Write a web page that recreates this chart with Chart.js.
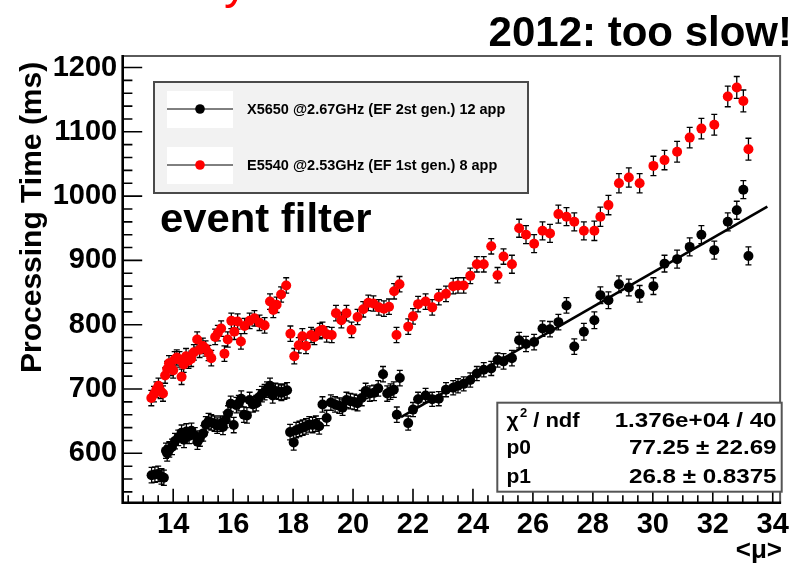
<!DOCTYPE html>
<html>
<head>
<meta charset="utf-8">
<title>Processing time vs pile-up</title>
<script src="https://cdn.jsdelivr.net/npm/chart.js@4.4.1/dist/chart.umd.min.js"></script>
<style>
  html, body { margin: 0; padding: 0; background: #ffffff; }
  #wrap { width: 794px; height: 566px; position: relative; }
</style>
</head>
<body>
<div id="wrap"><canvas id="c" width="794" height="566"></canvas></div>
<script>
// ---- data: mean pile-up <mu> and event-filter processing time (ms) ----
const blackLabel = 'X5650 @2.67GHz (EF 2st gen.) 12 app';
const blackMu = [
  13.28,13.39,13.50,13.61,13.69,13.76,13.80,13.87,13.96,14.06,14.17,14.28,14.36,14.44,14.53,14.61,14.72,14.81,14.89,15.00,
  15.09,15.18,15.27,15.38,15.47,15.58,15.66,15.75,15.83,15.92,16.02,16.11,16.19,16.27,16.36,16.46,16.55,16.66,16.77,16.86,
  16.96,17.05,17.13,17.23,17.32,17.41,17.51,17.61,17.71,17.80,
  17.90,18.02,18.10,18.21,18.32,18.43,18.54,18.65,18.76,18.87,18.98,19.12,19.26,19.40,19.54,19.65,19.78,19.91,20.04,20.15,
  20.29,20.42,20.56,20.70,20.84,21.00,21.14,21.25,21.36,21.46,21.56,
  21.84,22.00,22.17,22.42,22.64,22.86,23.10,23.34,23.50,23.69,23.91,24.13,24.36,24.61,24.82,25.02,25.30,25.54,25.77,26.04,
  26.32,26.57,26.85,27.12,27.38,27.70,28.05,28.25,28.52,28.87,29.20,29.56,30.02,30.39,30.81,31.23,31.62,32.05,32.50,32.80,
  33.02,33.19
];
const blackTime = [
  566,567,568,564,562,604,600,606,610,619,624,632,621,634,627,635,628,618,623,631,
  645,650,648,646,643,646,641,652,662,677,644,675,678,685,660,659,683,676,678,687,
  692,695,699,705,690,697,696,694,696,698,
  633,617,636,638,640,642,645,644,646,642,676,655,679,676,674,671,683,681,680,678,
  686,697,693,694,701,723,693,696,699,660,717,
  647,668,684,690,684,685,699,702,705,708,714,724,730,732,745,743,748,776,770,773,
  794,793,804,830,766,789,807,846,838,863,858,848,860,895,902,921,940,916,960,978,
  1010,907
];
const blackErr = [
  12,12,12,12,12,12,12,12,12,12,12,12,12,12,12,12,12,12,12,12,
  12,12,12,12,12,12,12,12,12,12,12,12,12,12,12,12,12,12,12,12,
  12,12,12,12,12,12,12,12,12,12,
  12,12,12,12,12,12,12,12,12,12,12,12,12,12,12,12,12,12,12,12,
  12,12,12,12,12,12,12,12,12,12,12,
  11,11,11,11,11,11,11,11,11,11,11,11,11,11,11,12,12,12,12,12,
  12,12,12,12,12,13,13,13,13,13,13,13,13,13,14,14,14,14,14,14,
  14,14
];

const redLabel = 'E5540 @2.53GHz (EF 1st gen.) 8 app';
const redMu = [
  13.27,13.36,13.44,13.51,13.58,13.66,13.73,13.80,13.86,13.93,14.00,14.05,14.12,14.21,14.28,14.35,14.43,14.51,14.60,14.69,
  14.80,14.88,14.99,15.08,15.18,15.27,15.40,15.49,15.60,15.71,15.82,15.94,16.04,16.15,16.26,16.38,16.55,16.71,16.88,17.05,
  17.23,17.34,17.45,17.60,17.77,
  17.91,18.04,18.19,18.31,18.43,18.60,18.71,18.89,18.98,19.12,19.29,19.43,19.61,19.78,19.95,20.15,20.34,20.51,20.68,20.86,
  21.03,21.20,21.37,21.45,21.55,
  21.84,22.00,22.17,22.42,22.64,22.86,23.10,23.34,23.50,23.69,23.91,24.13,24.36,24.61,24.82,25.02,25.30,25.54,25.77,26.04,
  26.32,26.57,26.85,27.12,27.38,27.70,28.05,28.25,28.52,28.87,29.20,29.56,30.02,30.39,30.81,31.23,31.62,32.05,32.50,32.80,
  33.02,33.19
];
const redTime = [
  686,692,699,705,697,693,721,731,740,733,729,746,749,746,719,738,751,744,747,757,
  777,761,767,763,756,748,781,787,794,755,777,806,789,805,774,798,806,810,803,799,
  836,823,831,847,861,
  786,751,768,782,767,784,781,790,792,785,784,818,807,818,792,812,824,834,833,827,
  825,828,852,784,863,
  797,813,832,836,827,843,848,860,861,861,876,894,894,922,877,906,894,950,940,926,
  946,942,972,968,960,946,946,968,986,1020,1029,1020,1047,1056,1069,1091,1105,1111,1155,1169,
  1148,1073
];
const redErr = [
  12,12,12,12,12,12,12,12,12,12,12,12,12,12,12,12,12,12,12,12,
  12,12,12,12,12,12,12,12,12,12,12,12,12,12,12,12,12,12,12,12,
  12,12,12,12,12,
  12,12,12,12,12,12,12,12,12,12,12,12,12,12,12,12,12,12,12,12,
  12,12,12,12,12,
  12,12,12,12,12,12,12,12,12,12,12,12,12,12,12,12,14,14,14,14,
  14,14,14,14,14,14,15,15,15,15,15,15,15,15,16,16,16,16,16,17,
  17,17
];

// linear fit to the X5650 points: t = p0 + p1 * mu
const fitP0 = 77.25, fitP0Err = 22.69;
const fitP1 = 26.8,  fitP1Err = 0.8375;
const fitChi2 = '1.376e+04', fitNdf = 40;
const fitMuFrom = 21.6, fitMuTo = 33.82;

const xTicks = [14, 16, 18, 20, 22, 24, 26, 28, 30, 32, 34];
const yTicks = [600, 700, 800, 900, 1000, 1100, 1200];
const xMinorStep = 0.5, yMinorStep = 20;
const xRange = [12.316, 34.246];
const yRange = [523.2, 1217.9];

const FONT = '"Liberation Sans", Arial, Helvetica, sans-serif';

const toPoints = (xs, ys) => xs.map((v, i) => ({ x: v, y: ys[i] }));

function drawText(ctx, s, x, y, font, align, color, sx) {
  ctx.save();
  ctx.font = font;
  ctx.fillStyle = color || '#000';
  ctx.textAlign = align || 'left';
  ctx.textBaseline = 'alphabetic';
  ctx.translate(x, y);
  ctx.scale(sx || 1, 1);
  ctx.fillText(s, 0, 0);
  ctx.restore();
}

// vertical error bars with small end caps, drawn under each marker set
const errorBars = {
  id: 'errorBars',
  beforeDatasetDraw(chart, args) {
    const ds = chart.data.datasets[args.index];
    if (!ds.errors) return;
    const { ctx } = chart;
    const xs = chart.scales.x, ys = chart.scales.y;
    ctx.save();
    ctx.strokeStyle = '#000';
    ctx.lineWidth = 1.3;
    ctx.beginPath();
    ds.data.forEach((p, i) => {
      const e = ds.errors[i];
      const px = xs.getPixelForValue(p.x);
      const t = ys.getPixelForValue(p.y + e);
      const b = ys.getPixelForValue(p.y - e);
      ctx.moveTo(px, t); ctx.lineTo(px, b);
      ctx.moveTo(px - 3, t); ctx.lineTo(px + 3, t);
      ctx.moveTo(px - 3, b); ctx.lineTo(px + 3, b);
    });
    ctx.stroke();
    ctx.restore();
  }
};

// frame, inward ticks, legend, fit box and captions
const decorations = {
  id: 'decorations',
  afterDatasetsDraw(chart) {
    const { ctx, chartArea: a } = chart;
    const xs = chart.scales.x, ys = chart.scales.y;
    ctx.save();
    // top and right frame
    ctx.strokeStyle = '#5a5a5a';
    ctx.lineWidth = 2;
    ctx.beginPath();
    ctx.moveTo(a.left, a.top); ctx.lineTo(a.right, a.top); ctx.lineTo(a.right, a.bottom);
    ctx.stroke();
    // ticks
    ctx.strokeStyle = '#000';
    ctx.lineWidth = 1.6;
    ctx.beginPath();
    for (let v = Math.ceil(xRange[0] / xMinorStep) * xMinorStep; v <= xRange[1]; v += xMinorStep) {
      const major = xTicks.some(t => Math.abs(t - v) < 1e-6);
      const px = xs.getPixelForValue(v);
      ctx.moveTo(px, a.bottom); ctx.lineTo(px, a.bottom - (major ? 14 : 7.5));
    }
    for (let v = Math.ceil(yRange[0] / yMinorStep) * yMinorStep; v <= yRange[1]; v += yMinorStep) {
      const major = yTicks.some(t => Math.abs(t - v) < 1e-6);
      const py = ys.getPixelForValue(v);
      ctx.moveTo(a.left, py); ctx.lineTo(a.left + (major ? 19.5 : 9.7), py);
    }
    ctx.stroke();
    // axes
    ctx.lineWidth = 2.6;
    ctx.beginPath();
    ctx.moveTo(a.left, a.top - 1); ctx.lineTo(a.left, a.bottom);
    ctx.lineTo(a.right + 1, a.bottom);
    ctx.stroke();
    ctx.restore();
  },
  afterDraw(chart) {
    const { ctx } = chart;
    const byLabel = l => chart.data.datasets.find(d => d.label === l);
    ctx.save();
    // legend box
    ctx.fillStyle = '#f2f2f2';
    ctx.fillRect(154, 82, 374, 111);
    ctx.strokeStyle = '#4a4a4a';
    ctx.lineWidth = 2;
    ctx.strokeRect(154, 82, 374, 111);
    [blackLabel, redLabel].forEach((label, row) => {
      const ds = byLabel(label);
      const cy = row === 0 ? 109 : 165;
      ctx.fillStyle = '#ffffff';
      ctx.fillRect(167, cy - 18, 66, 37);
      ctx.strokeStyle = '#000';
      ctx.lineWidth = 1;
      ctx.beginPath(); ctx.moveTo(167, cy); ctx.lineTo(233, cy); ctx.stroke();
      ctx.fillStyle = ds.backgroundColor;
      ctx.beginPath(); ctx.arc(200, cy, 4.8, 0, Math.PI * 2); ctx.fill();
      drawText(ctx, ds.label, 247, cy + 5, 'bold 14.5px ' + FONT, 'left', '#000', 1);
    });
    // fit result box
    ctx.fillStyle = '#ffffff';
    ctx.fillRect(497.3, 402.7, 284.4, 89);
    ctx.strokeStyle = '#555555';
    ctx.lineWidth = 2;
    ctx.strokeRect(497.3, 402.7, 284.4, 89);
    const sf = 'bold 21px ' + FONT;
    drawText(ctx, '\u03c7', 506.5, 426.7, sf, 'left', '#000', 1);
    drawText(ctx, '2', 520, 417, 'bold 13px ' + FONT, 'left', '#000', 1);
    drawText(ctx, ' / ndf', 527, 426.7, sf, 'left', '#000', 1.05);
    drawText(ctx, fitChi2 + ' / ' + fitNdf, 776.5, 426.7, sf, 'right', '#000', 1.15);
    drawText(ctx, 'p0', 506.5, 454.3, sf, 'left', '#000', 1);
    drawText(ctx, fitP0.toFixed(2) + ' \u00b1 ' + fitP0Err.toFixed(2), 776.5, 454.3, sf, 'right', '#000', 1.15);
    drawText(ctx, 'p1', 506.5, 482.5, sf, 'left', '#000', 1);
    drawText(ctx, String(fitP1) + ' \u00b1 ' + String(fitP1Err), 776.5, 482.5, sf, 'right', '#000', 1.15);
    // captions
    drawText(ctx, '2012: too slow!', 792, 45.5, 'bold 42px ' + FONT, 'right', '#000', 1);
    drawText(ctx, 'event filter', 160, 232, 'bold 41px ' + FONT, 'left', '#000', 1.02);
    drawText(ctx, 'y', 224, -2.5, '48px ' + FONT, 'left', '#ff0000', 1);
    drawText(ctx, '<\u03bc>', 782, 558, 'bold 26px ' + FONT, 'right', '#000', 1);
    // y-axis title
    ctx.save();
    ctx.translate(41, 373);
    ctx.rotate(-Math.PI / 2);
    drawText(ctx, 'Processing Time (ms)', 0, 0, 'bold 30px ' + FONT, 'left', '#000', 1);
    ctx.restore();
    ctx.restore();
  }
};

const fitLine = [fitMuFrom, fitMuTo].map(m => ({ x: m, y: fitP0 + fitP1 * m }));

new Chart(document.getElementById('c'), {
  type: 'scatter',
  data: {
    datasets: [
      {
        label: 'fit',
        data: fitLine,
        showLine: true,
        borderColor: '#000',
        borderWidth: 2.6,
        pointRadius: 0,
        order: 0
      },
      {
        label: redLabel,
        data: toPoints(redMu, redTime),
        errors: redErr,
        backgroundColor: '#ff0000',
        borderWidth: 0,
        pointRadius: 5,
        order: 1
      },
      {
        label: blackLabel,
        data: toPoints(blackMu, blackTime),
        errors: blackErr,
        backgroundColor: '#000000',
        borderWidth: 0,
        pointRadius: 5,
        order: 2
      }
    ]
  },
  options: {
    responsive: false,
    animation: false,
    devicePixelRatio: 1,
    events: [],
    layout: { padding: { left: 0, right: 12.3, top: 56, bottom: 0 } },
    plugins: { legend: { display: false }, tooltip: { enabled: false }, title: { display: false } },
    scales: {
      x: {
        type: 'linear',
        min: xRange[0],
        max: xRange[1],
        grid: { display: false, drawTicks: false },
        border: { display: false },
        ticks: {
          color: '#000',
          padding: 5,
          maxRotation: 0,
          autoSkip: false,
          font: { family: FONT, size: 29, weight: 'bold' },
          callback: v => String(v)
        },
        afterBuildTicks: s => { s.ticks = xTicks.map(v => ({ value: v })); },
        afterFit: s => { s.height = 63.3; }
      },
      y: {
        type: 'linear',
        min: yRange[0],
        max: yRange[1],
        grid: { display: false, drawTicks: false },
        border: { display: false },
        ticks: {
          color: '#000',
          padding: 5.5,
          autoSkip: false,
          font: { family: FONT, size: 29, weight: 'bold' },
          callback: v => String(v)
        },
        afterBuildTicks: s => { s.ticks = yTicks.map(v => ({ value: v })); },
        afterFit: s => { s.width = 122.7; }
      }
    }
  },
  plugins: [errorBars, decorations]
});
</script>
</body>
</html>
